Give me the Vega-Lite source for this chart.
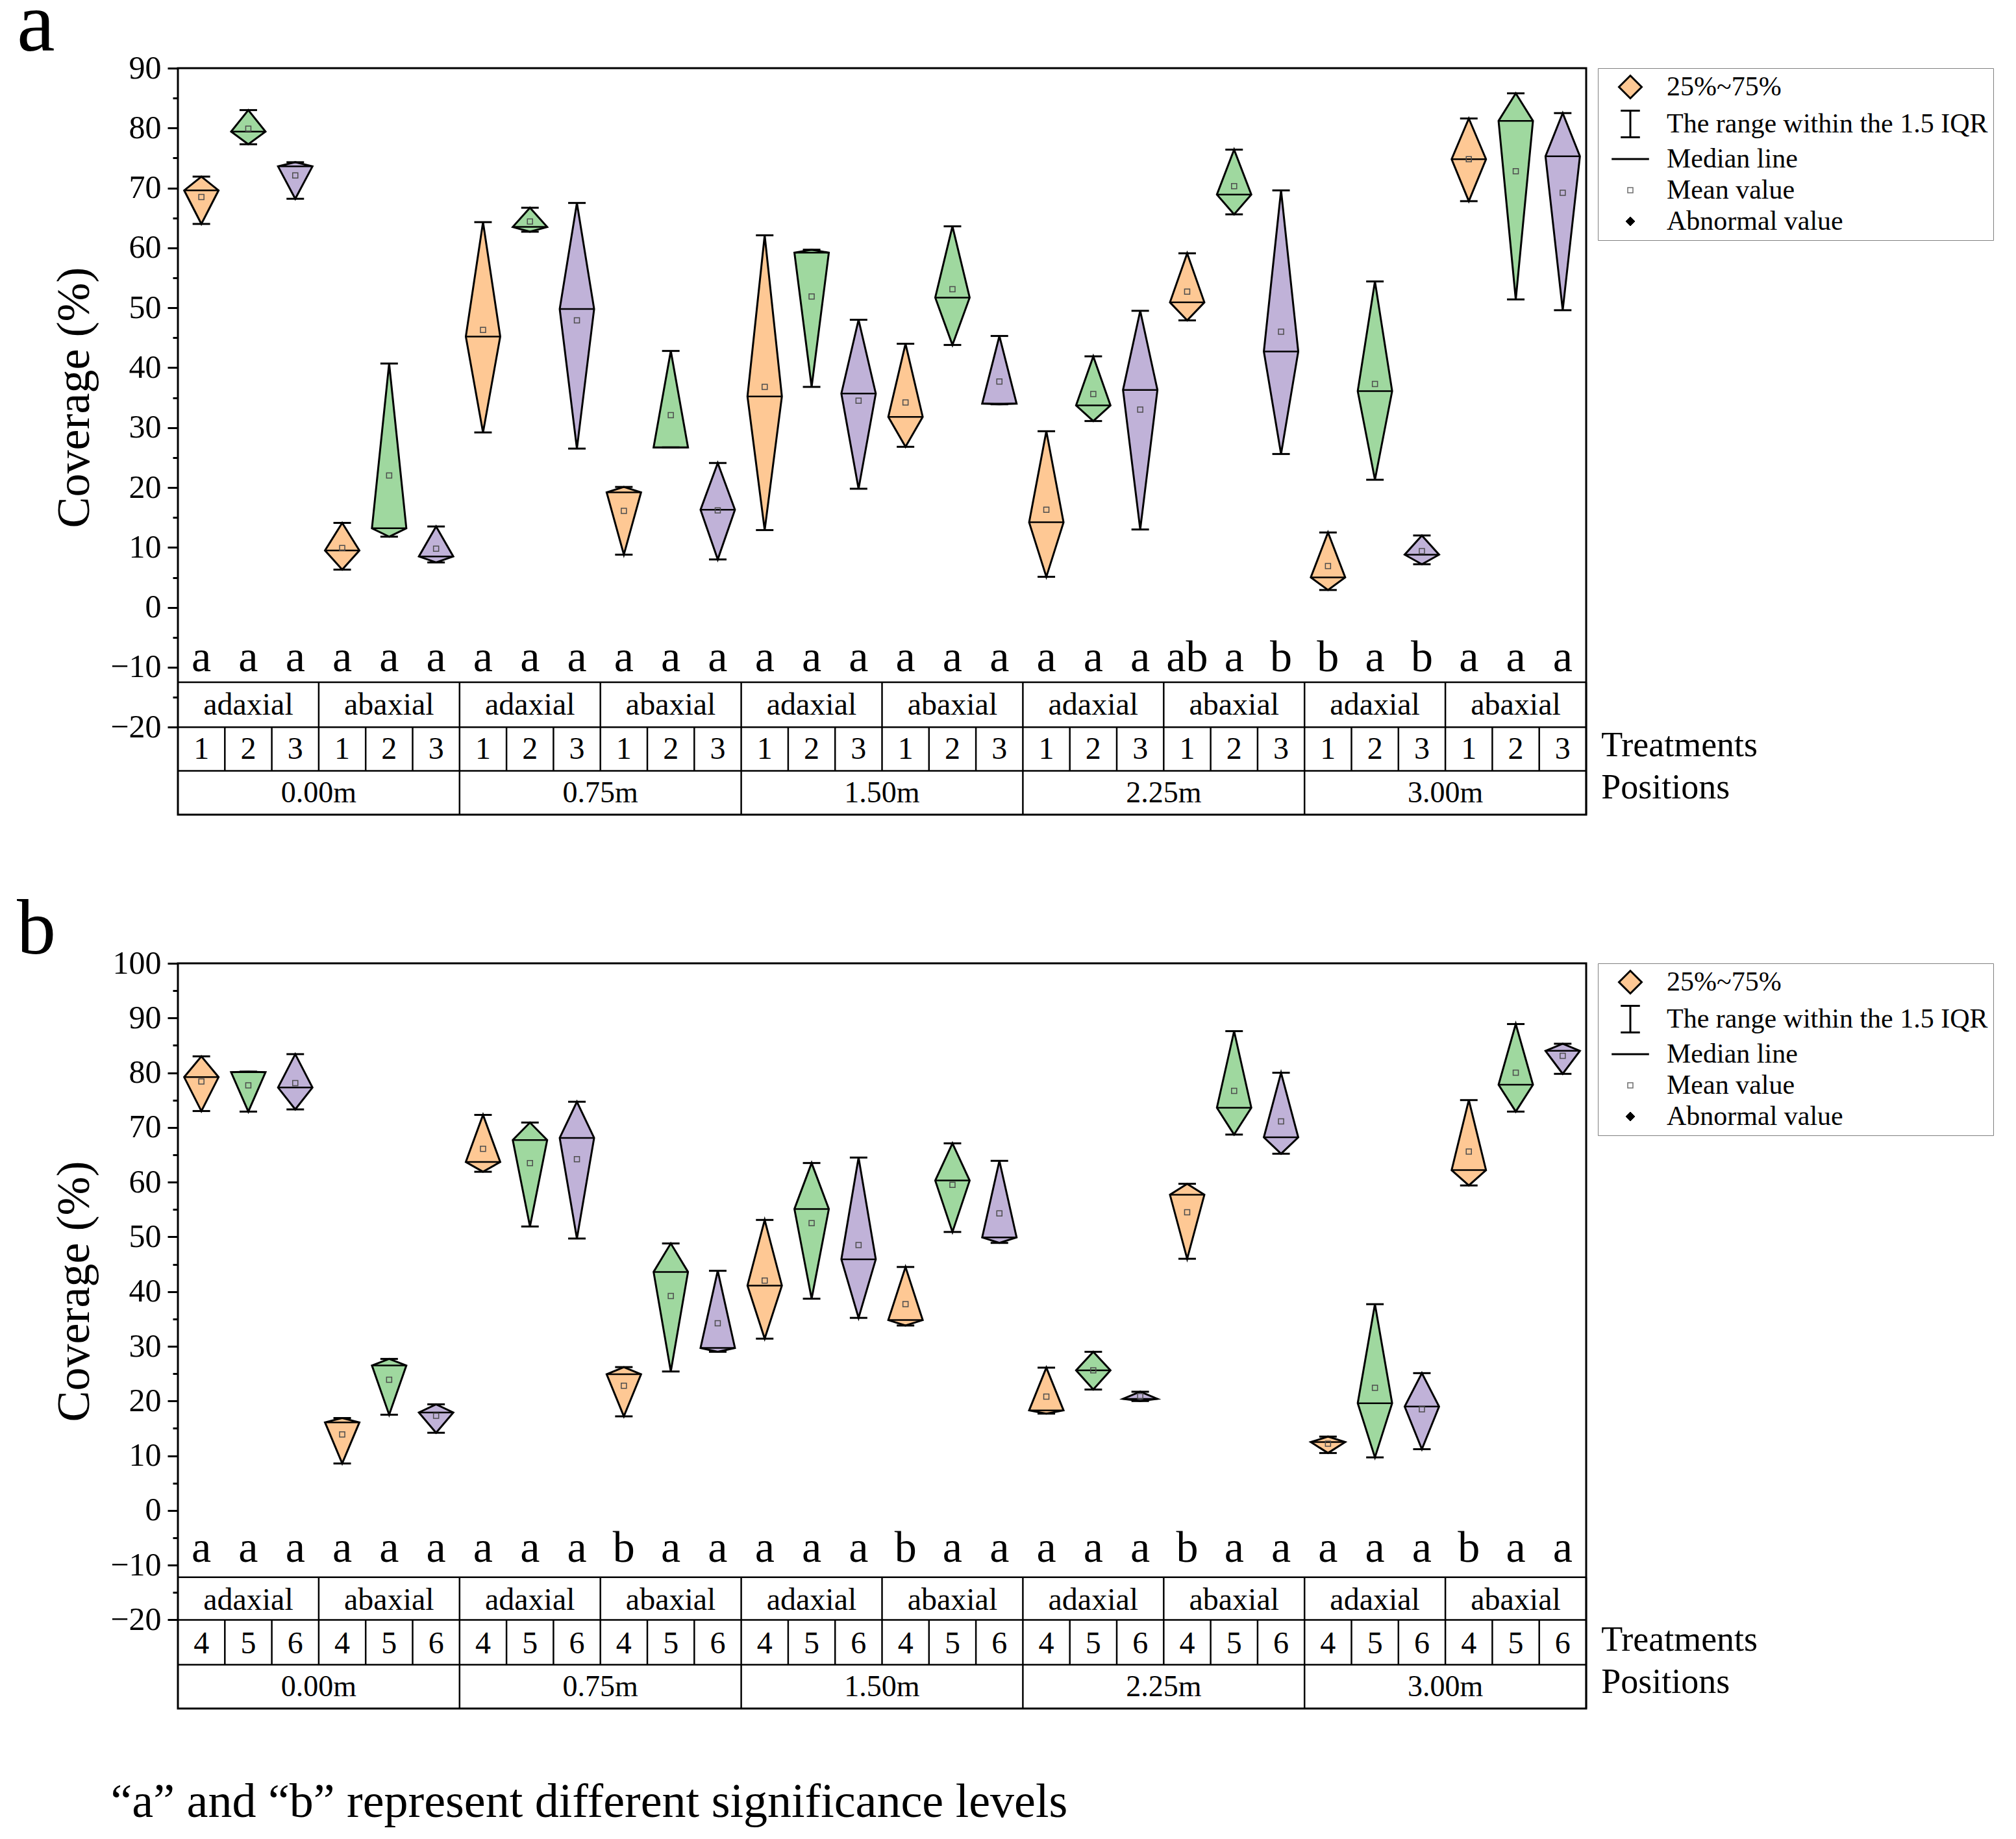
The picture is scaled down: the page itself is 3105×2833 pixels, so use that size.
{
  "$schema": "https://vega.github.io/schema/vega-lite/v6.json",
  "background": "white",
  "padding": {"left": 24, "top": -30, "right": 5, "bottom": 5},
  "datasets": {
    "A": [
      {"n":1,"pos":"0.00m","side":"adaxial","trt":"1","min":64.0,"median":69.6,"max":71.9,"mean":68.5,"sig":"a"},
      {"n":2,"pos":"0.00m","side":"adaxial","trt":"2","min":77.3,"median":79.4,"max":83.0,"mean":79.9,"sig":"a"},
      {"n":3,"pos":"0.00m","side":"adaxial","trt":"3","min":68.2,"median":73.6,"max":74.3,"mean":72.1,"sig":"a"},
      {"n":4,"pos":"0.00m","side":"abaxial","trt":"1","min":6.3,"median":9.5,"max":14.1,"mean":9.9,"sig":"a"},
      {"n":5,"pos":"0.00m","side":"abaxial","trt":"2","min":11.8,"median":13.2,"max":40.7,"mean":22.0,"sig":"a"},
      {"n":6,"pos":"0.00m","side":"abaxial","trt":"3","min":7.5,"median":8.5,"max":13.5,"mean":9.8,"sig":"a"},
      {"n":7,"pos":"0.75m","side":"adaxial","trt":"1","min":29.2,"median":45.2,"max":64.3,"mean":46.3,"sig":"a"},
      {"n":8,"pos":"0.75m","side":"adaxial","trt":"2","min":62.7,"median":63.5,"max":66.7,"mean":64.4,"sig":"a"},
      {"n":9,"pos":"0.75m","side":"adaxial","trt":"3","min":26.5,"median":49.8,"max":67.5,"mean":47.9,"sig":"a"},
      {"n":10,"pos":"0.75m","side":"abaxial","trt":"1","min":8.8,"median":19.2,"max":20.1,"mean":16.1,"sig":"a"},
      {"n":11,"pos":"0.75m","side":"abaxial","trt":"2","min":26.7,"median":26.7,"max":42.8,"mean":32.1,"sig":"a"},
      {"n":12,"pos":"0.75m","side":"abaxial","trt":"3","min":8.0,"median":16.3,"max":24.1,"mean":16.2,"sig":"a"},
      {"n":13,"pos":"1.50m","side":"adaxial","trt":"1","min":12.9,"median":35.2,"max":62.1,"mean":36.8,"sig":"a"},
      {"n":14,"pos":"1.50m","side":"adaxial","trt":"2","min":36.8,"median":59.2,"max":59.7,"mean":51.9,"sig":"a"},
      {"n":15,"pos":"1.50m","side":"adaxial","trt":"3","min":19.8,"median":35.7,"max":48.0,"mean":34.5,"sig":"a"},
      {"n":16,"pos":"1.50m","side":"abaxial","trt":"1","min":26.8,"median":31.8,"max":44.0,"mean":34.2,"sig":"a"},
      {"n":17,"pos":"1.50m","side":"abaxial","trt":"2","min":43.8,"median":51.7,"max":63.6,"mean":53.1,"sig":"a"},
      {"n":18,"pos":"1.50m","side":"abaxial","trt":"3","min":33.9,"median":34.0,"max":45.3,"mean":37.7,"sig":"a"},
      {"n":19,"pos":"2.25m","side":"adaxial","trt":"1","min":5.1,"median":14.2,"max":29.4,"mean":16.3,"sig":"a"},
      {"n":20,"pos":"2.25m","side":"adaxial","trt":"2","min":31.1,"median":33.7,"max":41.9,"mean":35.6,"sig":"a"},
      {"n":21,"pos":"2.25m","side":"adaxial","trt":"3","min":13.0,"median":36.3,"max":49.5,"mean":33.0,"sig":"a"},
      {"n":22,"pos":"2.25m","side":"abaxial","trt":"1","min":47.9,"median":50.9,"max":59.1,"mean":52.7,"sig":"ab"},
      {"n":23,"pos":"2.25m","side":"abaxial","trt":"2","min":65.6,"median":68.9,"max":76.4,"mean":70.3,"sig":"a"},
      {"n":24,"pos":"2.25m","side":"abaxial","trt":"3","min":25.6,"median":42.7,"max":69.6,"mean":46.0,"sig":"b"},
      {"n":25,"pos":"3.00m","side":"adaxial","trt":"1","min":2.9,"median":5.0,"max":12.5,"mean":6.9,"sig":"b"},
      {"n":26,"pos":"3.00m","side":"adaxial","trt":"2","min":21.3,"median":36.1,"max":54.4,"mean":37.3,"sig":"a"},
      {"n":27,"pos":"3.00m","side":"adaxial","trt":"3","min":7.2,"median":8.8,"max":12.0,"mean":9.4,"sig":"b"},
      {"n":28,"pos":"3.00m","side":"abaxial","trt":"1","min":67.8,"median":74.8,"max":81.6,"mean":74.8,"sig":"a"},
      {"n":29,"pos":"3.00m","side":"abaxial","trt":"2","min":51.4,"median":81.2,"max":85.8,"mean":72.8,"sig":"a"},
      {"n":30,"pos":"3.00m","side":"abaxial","trt":"3","min":49.6,"median":75.3,"max":82.5,"mean":69.2,"sig":"a"}
    ],
    "B": [
      {"n":1,"pos":"0.00m","side":"adaxial","trt":"4","min":73.0,"median":79.2,"max":83.0,"mean":78.4,"sig":"a"},
      {"n":2,"pos":"0.00m","side":"adaxial","trt":"5","min":72.9,"median":80.1,"max":80.2,"mean":77.7,"sig":"a"},
      {"n":3,"pos":"0.00m","side":"adaxial","trt":"6","min":73.3,"median":77.3,"max":83.4,"mean":78.1,"sig":"a"},
      {"n":4,"pos":"0.00m","side":"abaxial","trt":"4","min":8.6,"median":16.1,"max":16.9,"mean":13.9,"sig":"a"},
      {"n":5,"pos":"0.00m","side":"abaxial","trt":"5","min":17.5,"median":26.5,"max":27.7,"mean":23.9,"sig":"a"},
      {"n":6,"pos":"0.00m","side":"abaxial","trt":"6","min":14.2,"median":17.9,"max":19.4,"mean":17.3,"sig":"a"},
      {"n":7,"pos":"0.75m","side":"adaxial","trt":"4","min":61.9,"median":63.7,"max":72.3,"mean":66.1,"sig":"a"},
      {"n":8,"pos":"0.75m","side":"adaxial","trt":"5","min":51.9,"median":67.7,"max":70.9,"mean":63.5,"sig":"a"},
      {"n":9,"pos":"0.75m","side":"adaxial","trt":"6","min":49.7,"median":68.1,"max":74.7,"mean":64.2,"sig":"a"},
      {"n":10,"pos":"0.75m","side":"abaxial","trt":"4","min":17.2,"median":24.9,"max":26.2,"mean":22.8,"sig":"b"},
      {"n":11,"pos":"0.75m","side":"abaxial","trt":"5","min":25.4,"median":43.6,"max":48.8,"mean":39.2,"sig":"a"},
      {"n":12,"pos":"0.75m","side":"abaxial","trt":"6","min":29.0,"median":29.7,"max":43.8,"mean":34.2,"sig":"a"},
      {"n":13,"pos":"1.50m","side":"adaxial","trt":"4","min":31.4,"median":41.1,"max":53.1,"mean":42.0,"sig":"a"},
      {"n":14,"pos":"1.50m","side":"adaxial","trt":"5","min":38.7,"median":55.1,"max":63.5,"mean":52.5,"sig":"a"},
      {"n":15,"pos":"1.50m","side":"adaxial","trt":"6","min":35.2,"median":45.9,"max":64.5,"mean":48.5,"sig":"a"},
      {"n":16,"pos":"1.50m","side":"abaxial","trt":"4","min":33.8,"median":34.8,"max":44.5,"mean":37.7,"sig":"b"},
      {"n":17,"pos":"1.50m","side":"abaxial","trt":"5","min":50.9,"median":60.3,"max":67.1,"mean":59.5,"sig":"a"},
      {"n":18,"pos":"1.50m","side":"abaxial","trt":"6","min":48.9,"median":49.9,"max":63.9,"mean":54.3,"sig":"a"},
      {"n":19,"pos":"2.25m","side":"adaxial","trt":"4","min":17.7,"median":18.3,"max":26.1,"mean":20.8,"sig":"a"},
      {"n":20,"pos":"2.25m","side":"adaxial","trt":"5","min":22.1,"median":25.6,"max":29.0,"mean":25.6,"sig":"a"},
      {"n":21,"pos":"2.25m","side":"adaxial","trt":"6","min":20.0,"median":20.4,"max":21.7,"mean":20.9,"sig":"a"},
      {"n":22,"pos":"2.25m","side":"abaxial","trt":"4","min":46.0,"median":57.7,"max":59.7,"mean":54.5,"sig":"b"},
      {"n":23,"pos":"2.25m","side":"abaxial","trt":"5","min":68.7,"median":73.6,"max":87.6,"mean":76.7,"sig":"a"},
      {"n":24,"pos":"2.25m","side":"abaxial","trt":"6","min":65.2,"median":68.2,"max":80.0,"mean":71.1,"sig":"a"},
      {"n":25,"pos":"3.00m","side":"adaxial","trt":"4","min":10.5,"median":12.5,"max":13.5,"mean":12.2,"sig":"a"},
      {"n":26,"pos":"3.00m","side":"adaxial","trt":"5","min":9.7,"median":19.6,"max":37.7,"mean":22.4,"sig":"a"},
      {"n":27,"pos":"3.00m","side":"adaxial","trt":"6","min":11.2,"median":19.0,"max":25.1,"mean":18.5,"sig":"a"},
      {"n":28,"pos":"3.00m","side":"abaxial","trt":"4","min":59.4,"median":62.2,"max":75.0,"mean":65.6,"sig":"b"},
      {"n":29,"pos":"3.00m","side":"abaxial","trt":"5","min":72.9,"median":77.8,"max":88.9,"mean":80.0,"sig":"a"},
      {"n":30,"pos":"3.00m","side":"abaxial","trt":"6","min":79.8,"median":84.0,"max":85.3,"mean":83.1,"sig":"a"}
    ]
  },
  "title": {"text": "“a” and “b” represent different significance levels", "orient": "bottom", "anchor": "start", "frame": "bounds", "fontSize": 74, "fontWeight": "normal", "color": "black", "offset": 106, "dx": 146},
  "spacing": 113,
  "resolve": {
    "scale": {"x": "independent", "y": "independent", "fill": "independent", "stroke": "independent", "shape": "independent", "size": "independent", "strokeWidth": "independent"},
    "legend": {"fill": "independent", "stroke": "independent", "shape": "independent", "size": "independent", "strokeWidth": "independent"}
  },
  "vconcat": [
    {
      "title": {"text": "a", "anchor": "start", "frame": "group", "dx": -248, "fontSize": 132, "fontWeight": "normal", "color": "black", "offset": -26},
      "width": 2169,
      "height": 1150,
      "data": {"name": "A"},
      "resolve": {"axis": {"y": "independent"}},
      "layer": [
        {
          "transform": [
            {"fold": ["min", "median", "max"], "as": ["k", "v"]},
            {"calculate": "datum.k === 'median' ? datum.n - 0.3665 : datum.n", "as": "xl"},
            {"calculate": "datum.k === 'median' ? datum.n + 0.3665 : datum.n", "as": "xr"}
          ],
          "mark": {"type": "area", "orient": "horizontal", "stroke": "black", "strokeWidth": 3, "opacity": 1},
          "encoding": {
            "y": {"field": "v", "type": "quantitative", "scale": {"domain": [-34.6, 90], "nice": false, "zero": false},
              "axis": {"orient": "left", "values": [-20,-10,0,10,20,30,40,50,60,70,80,90],
                "tickSize": 16, "tickWidth": 3, "tickColor": "black", "domain": false, "grid": false, "labelOverlap": false,
                "labelFont": "Liberation Serif", "labelFontSize": 50, "labelPadding": 10, "labelColor": "black",
                "title": "Coverage (%)", "titleFont": "Liberation Serif", "titleFontSize": 72, "titleFontWeight": "normal", "titlePadding": 18, "titleColor": "black", "titleY": 507}},
            "x": {"field": "xl", "type": "quantitative", "scale": {"domain": [0.5, 30.5], "nice": false, "zero": false}, "axis": null, "stack": null},
            "x2": {"field": "xr"},
            "detail": {"field": "n", "type": "nominal"},
            "order": {"value": null},
            "color": {"field": "trt", "type": "nominal", "scale": {"domain": ["1","2","3","4","5","6"], "range": ["#FEC894","#9FD89F","#C0B2D8","#FEC894","#9FD89F","#C0B2D8"]}, "legend": null}
          }
        },
        {
          "transform": [{"fold": ["min", "max"], "as": ["k", "v"]}],
          "mark": {"type": "tick", "orient": "horizontal", "size": 27, "thickness": 3, "color": "black", "opacity": 1},
          "encoding": {
            "x": {"field": "n", "type": "quantitative", "axis": null},
            "y": {"field": "v", "type": "quantitative",
              "axis": {"orient": "left", "values": [-15,-5,5,15,25,35,45,55,65,75,85], "tickSize": 8, "tickWidth": 3, "tickColor": "black", "labels": false, "domain": false, "grid": false, "title": null}}
          }
        },
        {
          "mark": {"type": "tick", "orient": "horizontal", "size": 53, "thickness": 2.5, "color": "black", "opacity": 1},
          "encoding": {"x": {"field": "n", "type": "quantitative", "axis": null}, "y": {"field": "median", "type": "quantitative", "axis": null}}
        },
        {
          "mark": {"type": "point", "shape": "square", "size": 64, "filled": false, "stroke": "#4d4d4d", "strokeWidth": 1.5, "opacity": 1},
          "encoding": {"x": {"field": "n", "type": "quantitative", "axis": null}, "y": {"field": "mean", "type": "quantitative", "axis": null}}
        },
        {
          "mark": {"type": "text", "fontSize": 68, "baseline": "alphabetic", "align": "center", "color": "black"},
          "encoding": {"x": {"field": "n", "type": "quantitative", "axis": null}, "y": {"datum": -10.65, "type": "quantitative", "axis": null}, "text": {"field": "sig"}}
        },
        {"data": {"values": [{}]}, "mark": {"type": "rule", "strokeWidth": 2.5, "color": "black"}, "encoding": {"y": {"datum": -12.5, "type": "quantitative", "axis": null}}},
        {"data": {"values": [{}]}, "mark": {"type": "rule", "strokeWidth": 2.5, "color": "black"}, "encoding": {"y": {"datum": -20, "type": "quantitative", "axis": null}}},
        {"data": {"values": [{}]}, "mark": {"type": "rule", "strokeWidth": 2.5, "color": "black"}, "encoding": {"y": {"datum": -27.3, "type": "quantitative", "axis": null}}},
        {
          "transform": [{"filter": "datum.trt == '3' || datum.trt == '6'"}, {"calculate": "datum.n + 0.5", "as": "edge"}],
          "mark": {"type": "rule", "strokeWidth": 2.5, "color": "black"},
          "encoding": {"x": {"field": "edge", "type": "quantitative", "axis": null}, "y": {"datum": -12.5, "type": "quantitative", "axis": null}, "y2": {"datum": -20}}
        },
        {
          "transform": [{"calculate": "datum.n + 0.5", "as": "edge"}],
          "mark": {"type": "rule", "strokeWidth": 2.5, "color": "black"},
          "encoding": {"x": {"field": "edge", "type": "quantitative", "axis": null}, "y": {"datum": -20, "type": "quantitative", "axis": null}, "y2": {"datum": -27.3}}
        },
        {
          "transform": [{"filter": "datum.side == 'abaxial' && (datum.trt == '3' || datum.trt == '6')"}, {"calculate": "datum.n + 0.5", "as": "edge"}],
          "mark": {"type": "rule", "strokeWidth": 2.5, "color": "black"},
          "encoding": {"x": {"field": "edge", "type": "quantitative", "axis": null}, "y": {"datum": -27.3, "type": "quantitative", "axis": null}, "y2": {"datum": -34.6}}
        },
        {
          "transform": [{"filter": "datum.trt == '2' || datum.trt == '5'"}],
          "mark": {"type": "text", "fontSize": 48, "baseline": "alphabetic", "align": "center", "color": "black"},
          "encoding": {"x": {"field": "n", "type": "quantitative", "axis": null}, "y": {"datum": -17.9, "type": "quantitative", "axis": null}, "text": {"field": "side"}}
        },
        {
          "mark": {"type": "text", "fontSize": 48, "baseline": "alphabetic", "align": "center", "color": "black"},
          "encoding": {"x": {"field": "n", "type": "quantitative", "axis": null}, "y": {"datum": -25.3, "type": "quantitative", "axis": null}, "text": {"field": "trt"}}
        },
        {
          "transform": [{"filter": "datum.side == 'adaxial' && (datum.trt == '3' || datum.trt == '6')"}, {"calculate": "datum.n + 0.5", "as": "edge"}],
          "mark": {"type": "text", "fontSize": 46, "baseline": "alphabetic", "align": "center", "color": "black"},
          "encoding": {"x": {"field": "edge", "type": "quantitative", "axis": null}, "y": {"datum": -32.5, "type": "quantitative", "axis": null}, "text": {"field": "pos"}}
        },
        {
          "data": {"values": [{}]},
          "mark": {"type": "text", "text": "Treatments", "fontSize": 54, "baseline": "alphabetic", "align": "left", "color": "black"},
          "encoding": {"x": {"datum": 30.82, "type": "quantitative", "axis": null}, "y": {"datum": -24.9, "type": "quantitative", "axis": null}}
        },
        {
          "data": {"values": [{}]},
          "mark": {"type": "text", "text": "Positions", "fontSize": 54, "baseline": "alphabetic", "align": "left", "color": "black"},
          "encoding": {"x": {"datum": 30.82, "type": "quantitative", "axis": null}, "y": {"datum": -31.9, "type": "quantitative", "axis": null}}
        },
        {
          "data": {"values": []},
          "mark": {"type": "point", "opacity": 1},
          "encoding": {
            "shape": {"field": "item", "type": "nominal", "scale": {"domain": ["25%~75%", "The range within the 1.5 IQR", "Median line", "Mean value", "Abnormal value"], "range": ["M0,-1L1,0L0,1L-1,0Z", "M-0.72,-1L0.72,-1M0,-1L0,1M-0.72,1L0.72,1", "M-1.6,0L1.6,0", "square", "diamond"]}, "legend": {"title": null}},
            "size": {"field": "item", "type": "nominal", "scale": {"type": "ordinal", "domain": ["25%~75%", "The range within the 1.5 IQR", "Median line", "Mean value", "Abnormal value"], "range": [1225, 1681, 1296, 64, 196]}, "legend": {"title": null}},
            "fill": {"field": "item", "type": "nominal", "scale": {"domain": ["25%~75%", "The range within the 1.5 IQR", "Median line", "Mean value", "Abnormal value"], "range": ["#FEC894", "transparent", "transparent", "transparent", "black"]}, "legend": {"title": null}},
            "stroke": {"field": "item", "type": "nominal", "scale": {"domain": ["25%~75%", "The range within the 1.5 IQR", "Median line", "Mean value", "Abnormal value"], "range": ["black", "black", "black", "#6e6e6e", "black"]}, "legend": {"title": null}},
            "strokeWidth": {"field": "item", "type": "nominal", "scale": {"type": "ordinal", "domain": ["25%~75%", "The range within the 1.5 IQR", "Median line", "Mean value", "Abnormal value"], "range": [3, 3, 3, 1.5, 1]}, "legend": {"title": null}}
          }
        }
      ]
    },
    {
      "title": {"text": "b", "anchor": "start", "frame": "group", "dx": -248, "fontSize": 120, "fontWeight": "normal", "color": "black", "offset": -35},
      "width": 2169,
      "height": 1148,
      "data": {"name": "B"},
      "resolve": {"axis": {"y": "independent"}},
      "layer": [
        {
          "transform": [
            {"fold": ["min", "median", "max"], "as": ["k", "v"]},
            {"calculate": "datum.k === 'median' ? datum.n - 0.3665 : datum.n", "as": "xl"},
            {"calculate": "datum.k === 'median' ? datum.n + 0.3665 : datum.n", "as": "xr"}
          ],
          "mark": {"type": "area", "orient": "horizontal", "stroke": "black", "strokeWidth": 3, "opacity": 1},
          "encoding": {
            "y": {"field": "v", "type": "quantitative", "scale": {"domain": [-36.2, 100], "nice": false, "zero": false},
              "axis": {"orient": "left", "values": [-20,-10,0,10,20,30,40,50,60,70,80,90,100],
                "tickSize": 16, "tickWidth": 3, "tickColor": "black", "domain": false, "grid": false, "labelOverlap": false,
                "labelFont": "Liberation Serif", "labelFontSize": 50, "labelPadding": 10, "labelColor": "black",
                "title": "Coverage (%)", "titleFont": "Liberation Serif", "titleFontSize": 72, "titleFontWeight": "normal", "titlePadding": 18, "titleColor": "black", "titleY": 505}},
            "x": {"field": "xl", "type": "quantitative", "scale": {"domain": [0.5, 30.5], "nice": false, "zero": false}, "axis": null, "stack": null},
            "x2": {"field": "xr"},
            "detail": {"field": "n", "type": "nominal"},
            "order": {"value": null},
            "color": {"field": "trt", "type": "nominal", "scale": {"domain": ["1","2","3","4","5","6"], "range": ["#FEC894","#9FD89F","#C0B2D8","#FEC894","#9FD89F","#C0B2D8"]}, "legend": null}
          }
        },
        {
          "transform": [{"fold": ["min", "max"], "as": ["k", "v"]}],
          "mark": {"type": "tick", "orient": "horizontal", "size": 27, "thickness": 3, "color": "black", "opacity": 1},
          "encoding": {
            "x": {"field": "n", "type": "quantitative", "axis": null},
            "y": {"field": "v", "type": "quantitative",
              "axis": {"orient": "left", "values": [-15,-5,5,15,25,35,45,55,65,75,85,95], "tickSize": 8, "tickWidth": 3, "tickColor": "black", "labels": false, "domain": false, "grid": false, "title": null}}
          }
        },
        {
          "mark": {"type": "tick", "orient": "horizontal", "size": 53, "thickness": 2.5, "color": "black", "opacity": 1},
          "encoding": {"x": {"field": "n", "type": "quantitative", "axis": null}, "y": {"field": "median", "type": "quantitative", "axis": null}}
        },
        {
          "mark": {"type": "point", "shape": "square", "size": 64, "filled": false, "stroke": "#4d4d4d", "strokeWidth": 1.5, "opacity": 1},
          "encoding": {"x": {"field": "n", "type": "quantitative", "axis": null}, "y": {"field": "mean", "type": "quantitative", "axis": null}}
        },
        {
          "mark": {"type": "text", "fontSize": 68, "baseline": "alphabetic", "align": "center", "color": "black"},
          "encoding": {"x": {"field": "n", "type": "quantitative", "axis": null}, "y": {"datum": -9.4, "type": "quantitative", "axis": null}, "text": {"field": "sig"}}
        },
        {"data": {"values": [{}]}, "mark": {"type": "rule", "strokeWidth": 2.5, "color": "black"}, "encoding": {"y": {"datum": -12.2, "type": "quantitative", "axis": null}}},
        {"data": {"values": [{}]}, "mark": {"type": "rule", "strokeWidth": 2.5, "color": "black"}, "encoding": {"y": {"datum": -20, "type": "quantitative", "axis": null}}},
        {"data": {"values": [{}]}, "mark": {"type": "rule", "strokeWidth": 2.5, "color": "black"}, "encoding": {"y": {"datum": -28.2, "type": "quantitative", "axis": null}}},
        {
          "transform": [{"filter": "datum.trt == '3' || datum.trt == '6'"}, {"calculate": "datum.n + 0.5", "as": "edge"}],
          "mark": {"type": "rule", "strokeWidth": 2.5, "color": "black"},
          "encoding": {"x": {"field": "edge", "type": "quantitative", "axis": null}, "y": {"datum": -12.2, "type": "quantitative", "axis": null}, "y2": {"datum": -20}}
        },
        {
          "transform": [{"calculate": "datum.n + 0.5", "as": "edge"}],
          "mark": {"type": "rule", "strokeWidth": 2.5, "color": "black"},
          "encoding": {"x": {"field": "edge", "type": "quantitative", "axis": null}, "y": {"datum": -20, "type": "quantitative", "axis": null}, "y2": {"datum": -28.2}}
        },
        {
          "transform": [{"filter": "datum.side == 'abaxial' && (datum.trt == '3' || datum.trt == '6')"}, {"calculate": "datum.n + 0.5", "as": "edge"}],
          "mark": {"type": "rule", "strokeWidth": 2.5, "color": "black"},
          "encoding": {"x": {"field": "edge", "type": "quantitative", "axis": null}, "y": {"datum": -28.2, "type": "quantitative", "axis": null}, "y2": {"datum": -36.2}}
        },
        {
          "transform": [{"filter": "datum.trt == '2' || datum.trt == '5'"}],
          "mark": {"type": "text", "fontSize": 48, "baseline": "alphabetic", "align": "center", "color": "black"},
          "encoding": {"x": {"field": "n", "type": "quantitative", "axis": null}, "y": {"datum": -18.2, "type": "quantitative", "axis": null}, "text": {"field": "side"}}
        },
        {
          "mark": {"type": "text", "fontSize": 48, "baseline": "alphabetic", "align": "center", "color": "black"},
          "encoding": {"x": {"field": "n", "type": "quantitative", "axis": null}, "y": {"datum": -26.1, "type": "quantitative", "axis": null}, "text": {"field": "trt"}}
        },
        {
          "transform": [{"filter": "datum.side == 'adaxial' && (datum.trt == '3' || datum.trt == '6')"}, {"calculate": "datum.n + 0.5", "as": "edge"}],
          "mark": {"type": "text", "fontSize": 46, "baseline": "alphabetic", "align": "center", "color": "black"},
          "encoding": {"x": {"field": "edge", "type": "quantitative", "axis": null}, "y": {"datum": -33.9, "type": "quantitative", "axis": null}, "text": {"field": "pos"}}
        },
        {
          "data": {"values": [{}]},
          "mark": {"type": "text", "text": "Treatments", "fontSize": 54, "baseline": "alphabetic", "align": "left", "color": "black"},
          "encoding": {"x": {"datum": 30.82, "type": "quantitative", "axis": null}, "y": {"datum": -25.6, "type": "quantitative", "axis": null}}
        },
        {
          "data": {"values": [{}]},
          "mark": {"type": "text", "text": "Positions", "fontSize": 54, "baseline": "alphabetic", "align": "left", "color": "black"},
          "encoding": {"x": {"datum": 30.82, "type": "quantitative", "axis": null}, "y": {"datum": -33.3, "type": "quantitative", "axis": null}}
        },
        {
          "data": {"values": []},
          "mark": {"type": "point", "opacity": 1},
          "encoding": {
            "shape": {"field": "item", "type": "nominal", "scale": {"domain": ["25%~75%", "The range within the 1.5 IQR", "Median line", "Mean value", "Abnormal value"], "range": ["M0,-1L1,0L0,1L-1,0Z", "M-0.72,-1L0.72,-1M0,-1L0,1M-0.72,1L0.72,1", "M-1.6,0L1.6,0", "square", "diamond"]}, "legend": {"title": null}},
            "size": {"field": "item", "type": "nominal", "scale": {"type": "ordinal", "domain": ["25%~75%", "The range within the 1.5 IQR", "Median line", "Mean value", "Abnormal value"], "range": [1225, 1681, 1296, 64, 196]}, "legend": {"title": null}},
            "fill": {"field": "item", "type": "nominal", "scale": {"domain": ["25%~75%", "The range within the 1.5 IQR", "Median line", "Mean value", "Abnormal value"], "range": ["#FEC894", "transparent", "transparent", "transparent", "black"]}, "legend": {"title": null}},
            "stroke": {"field": "item", "type": "nominal", "scale": {"domain": ["25%~75%", "The range within the 1.5 IQR", "Median line", "Mean value", "Abnormal value"], "range": ["black", "black", "black", "#6e6e6e", "black"]}, "legend": {"title": null}},
            "strokeWidth": {"field": "item", "type": "nominal", "scale": {"type": "ordinal", "domain": ["25%~75%", "The range within the 1.5 IQR", "Median line", "Mean value", "Abnormal value"], "range": [3, 3, 3, 1.5, 1]}, "legend": {"title": null}}
          }
        }
      ]
    }
  ],
  "config": {
    "font": "Liberation Serif",
    "view": {"stroke": "black", "strokeWidth": 3},
    "axis": {"labelFont": "Liberation Serif", "titleFont": "Liberation Serif"},
    "axisY": {"labelFont": "Liberation Serif", "titleFont": "Liberation Serif"},
    "text": {"font": "Liberation Serif"},
    "title": {"font": "Liberation Serif"},
    "legend": {"orient": "right", "offset": 18, "padding": 8, "strokeColor": "#808080", "labelFont": "Liberation Serif", "labelFontSize": 42, "symbolOffset": 20, "labelOffset": 34, "labelLimit": 1000, "rowPadding": 6, "labelColor": "black"}
  }
}
